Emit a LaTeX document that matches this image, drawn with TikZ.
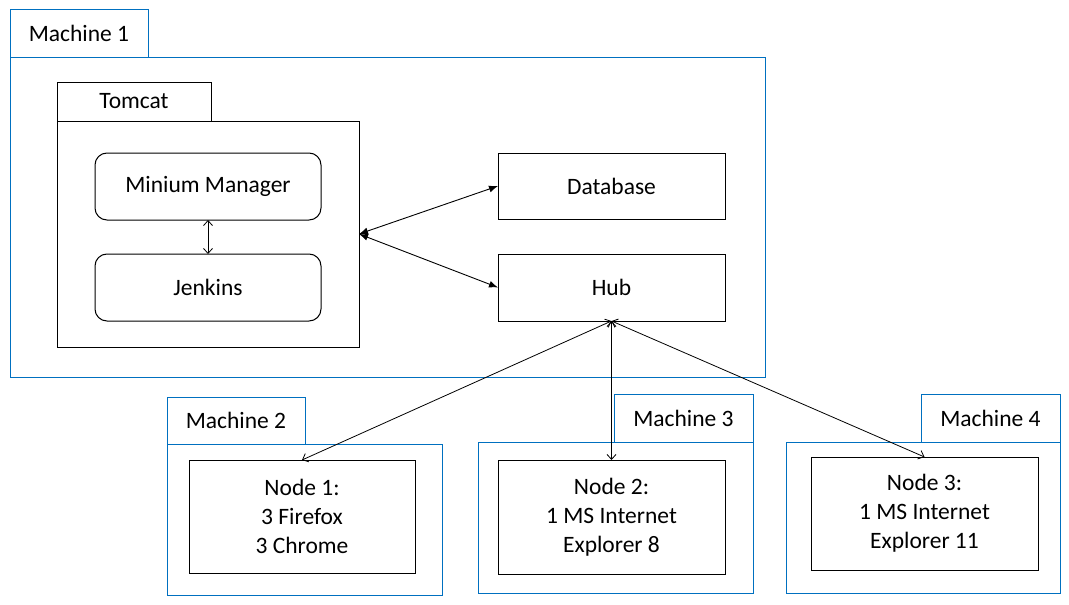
\documentclass[tikz,border=0pt]{standalone}
\usepackage{fontspec}
\setmainfont{Carlito}
\usepackage{xcolor}
\usepackage{tikz}
\usetikzlibrary{arrows.meta, positioning}
\definecolor{myblue}{RGB}{0,112,192}
\definecolor{mydark}{RGB}{0,0,0}
\tikzset{
  machine/.style={rectangle, draw=myblue, line width=1pt, outer sep=0pt,
    inner sep=0pt},
  machtab/.style={rectangle, draw=myblue, line width=1pt, outer sep=0pt,
    inner sep=0pt, minimum width=138pt, minimum height=48pt},
  block/.style={rectangle, draw=mydark, line width=1pt, outer sep=0pt,
    inner sep=0pt, align=center, minimum width=226pt},
  roundblock/.style={block, rounded corners=12pt, minimum height=67pt},
  arrow/.style={{Latex[length=9pt,width=7pt]}-{Latex[length=9pt,width=7pt]},
    line width=0.9pt, color=mydark},
  thinarrow/.style={{Straight Barb[length=5pt,width=9pt]}-{Straight Barb[length=5pt,width=9pt]},
    line width=0.8pt, color=mydark}
}

\begin{document}
\begin{tikzpicture}[x=1pt, y=-1pt, font=\fontsize{23.5}{29}\selectfont]
  \useasboundingbox (0,0) rectangle (1069,605);
  % machine 1
  \node[machine, minimum width=755pt, minimum height=320pt] (m1box) at (387.5,217) {};
  \node[machtab, above right=0pt and 0pt of m1box.north west] (m1tab) {Machine 1};
  \node[block, minimum width=302pt, minimum height=226pt] (tcbox) at (208,234) {};
  \node[block, minimum width=154pt, minimum height=39pt,
    above right=0pt and 0pt of tcbox.north west] (tctab) {Tomcat};
  \node[roundblock] (minium) at (208,186.5) {Minium Manager};
  \node[roundblock] (jenkins) at (208,287.5) {Jenkins};
  \node[block, minimum width=227pt, minimum height=66pt] (db) at (611.5,186) {Database};
  \node[block, minimum width=227pt, minimum height=67pt] (hub) at (611.5,287.5) {Hub};
  % machines 2-4
  \node[machine, minimum width=275pt, minimum height=151pt] (m2box) at (304.5,519.5) {};
  \node[machtab, minimum height=47pt, above right=0pt and 0pt of m2box.north west] (m2tab) {Machine 2};
  \node[block, minimum height=113pt] (node1) at (302,516.5) {Node 1:\\3 Firefox\\3 Chrome};
  \node[machine, minimum width=275pt, minimum height=151pt] (m3box) at (615.5,517.5) {};
  \node[machtab, minimum width=139pt, above left=0pt and 0pt of m3box.north east] (m3tab) {Machine 3};
  \node[block, minimum width=227pt, minimum height=114pt] (node2) at (611.5,517) {Node 2:\\1 MS Internet\\Explorer 8};
  \node[machine, minimum width=274pt, minimum height=151pt] (m4box) at (923,517.5) {};
  \node[machtab, minimum width=139pt, above left=0pt and 0pt of m4box.north east] (m4tab) {Machine 4};
  \node[block, minimum width=227pt, minimum height=113pt] (node3) at (924.5,513.5) {Node 3:\\1 MS Internet\\Explorer 11};
  % links
  \draw[thinarrow] (minium) -- (jenkins);
  \draw[arrow] (tcbox.east) -- (db.west);
  \draw[arrow] (tcbox.east) -- (hub.west);
  \draw[thinarrow] (hub.south) -- (node1.north);
  \draw[thinarrow] (hub.south) -- (node2.north);
  \draw[thinarrow] (hub.south) -- (node3.north);
\end{tikzpicture}
\end{document}
